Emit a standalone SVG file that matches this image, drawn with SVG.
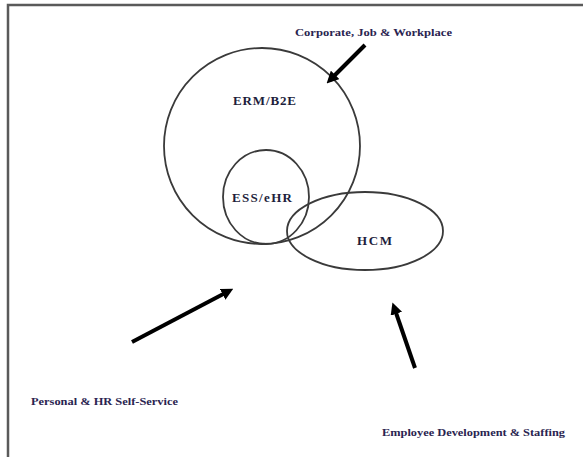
<svg xmlns="http://www.w3.org/2000/svg" width="583" height="457" viewBox="0 0 583 457">
<style>
.frame{fill:none;stroke:#5a5a5a;stroke-width:2.5}
.shape{fill:none;stroke:#3a3a3a;stroke-width:1.8}
.lbl{font-family:"Liberation Serif",serif;font-weight:bold;fill:#1e1e3c;font-size:13px;letter-spacing:1px}
.cap{font-family:"Liberation Serif",serif;font-weight:bold;fill:#2a2450;font-size:11px}
.arr{stroke:#000;stroke-width:4;fill:none;marker-end:url(#ah)}
</style>
<defs>
<marker id="ah" viewBox="0 0 10 10" refX="6" refY="5" markerWidth="3" markerHeight="3" orient="auto" markerUnits="strokeWidth">
<path d="M0,0 L10,5 L0,10 z" fill="#000"/>
</marker>
</defs>
<rect width="583" height="457" fill="#fff"/>
<path class="frame" d="M8,600 L8,5 L600,5"/>
<g id="erm">
<circle class="shape" cx="262" cy="146" r="98"/>
<text class="lbl" x="233" y="105" textLength="64">ERM/B2E</text>
</g>
<g id="ess">
<ellipse class="shape" cx="266" cy="197" rx="43" ry="47"/>
<text class="lbl" x="232" y="202" textLength="61">ESS/eHR</text>
</g>
<g id="hcm">
<ellipse class="shape" cx="365" cy="231" rx="78" ry="39"/>
<text class="lbl" x="357" y="245" textLength="36">HCM</text>
</g>
<g id="labels">
<text class="cap" x="295" y="36" textLength="157" lengthAdjust="spacingAndGlyphs">Corporate, Job &amp; Workplace</text>
<text class="cap" x="31" y="405" textLength="147" lengthAdjust="spacingAndGlyphs">Personal &amp; HR Self-Service</text>
<text class="cap" x="382" y="436" textLength="183" lengthAdjust="spacingAndGlyphs">Employee Development &amp; Staffing</text>
</g>
<g id="connectors">
<line class="arr" x1="365" y1="45" x2="330" y2="80"/>
<line class="arr" x1="132" y1="342" x2="229" y2="291"/>
<line class="arr" x1="415" y1="368" x2="394" y2="307"/>
</g>
</svg>
